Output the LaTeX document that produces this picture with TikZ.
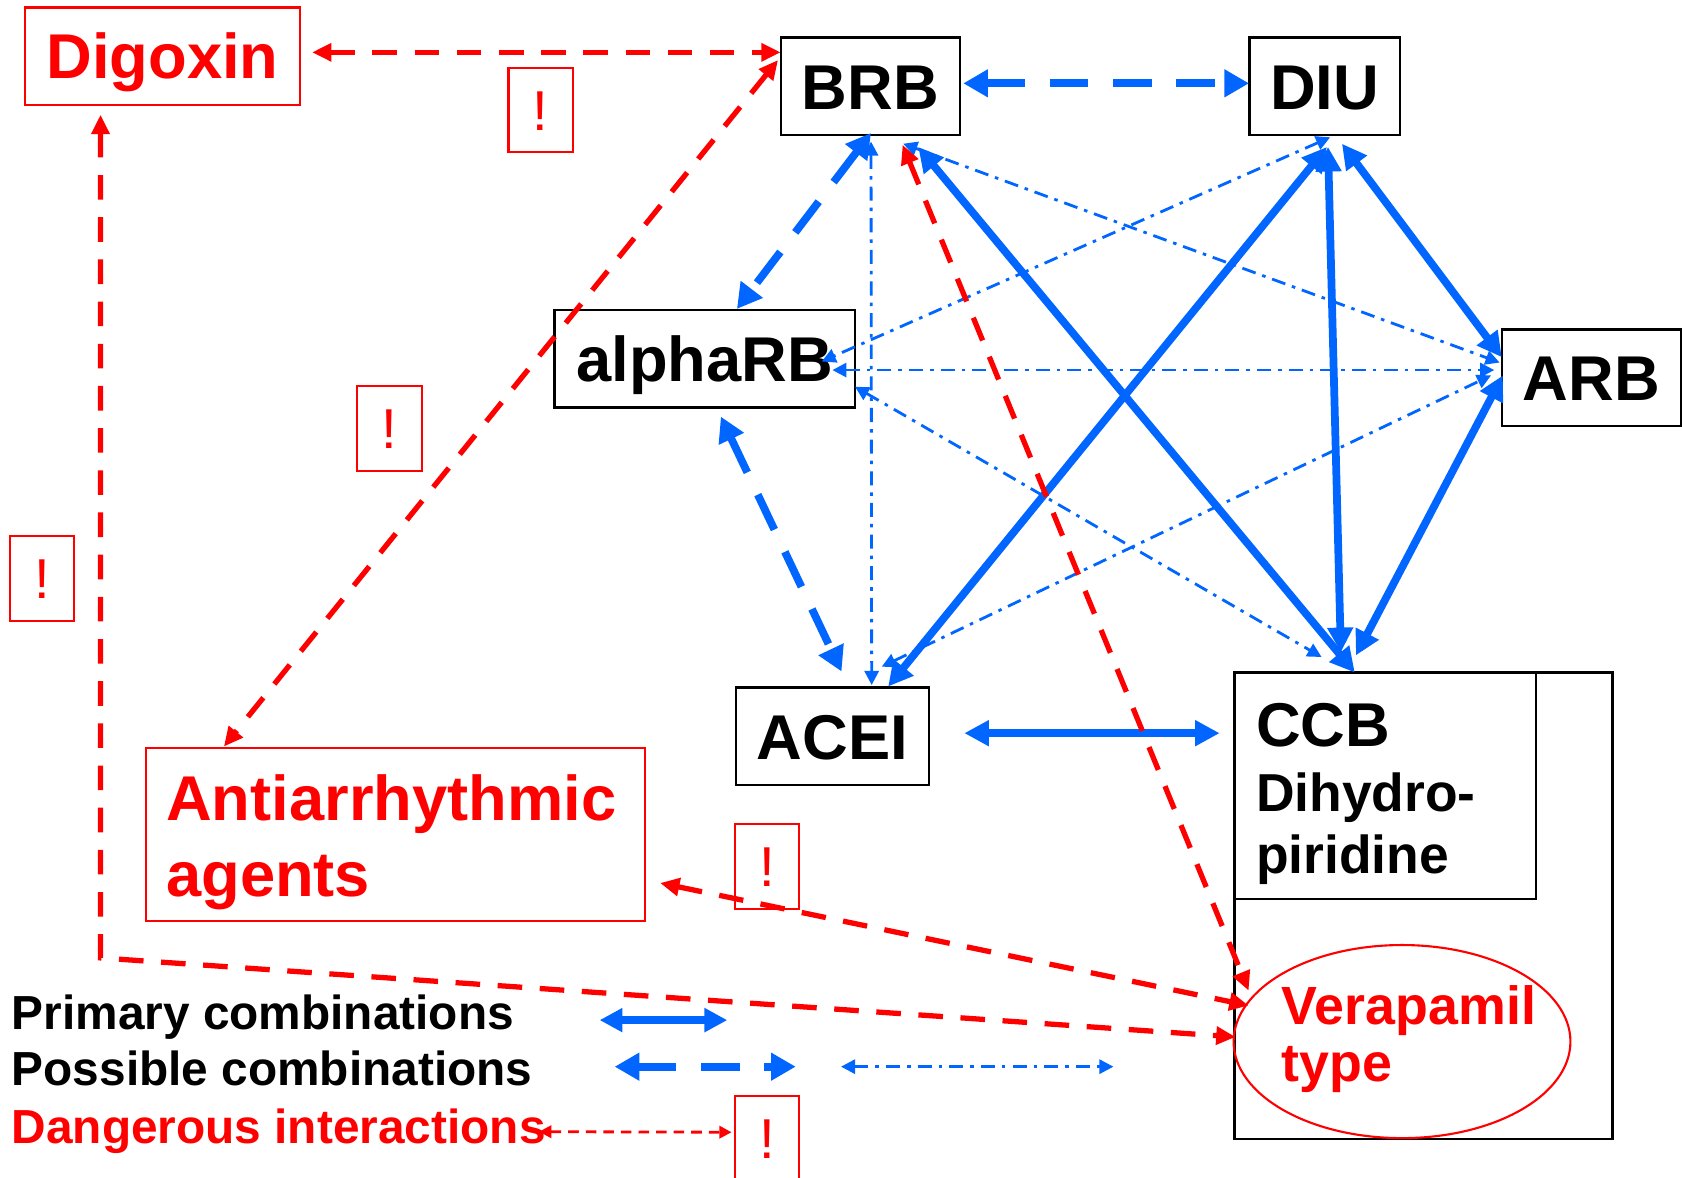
\documentclass[tikz,border=0pt]{standalone}
\usepackage{fontspec}
\setmainfont{Liberation Sans}
\usetikzlibrary{arrows.meta,calc,shapes.geometric}
\definecolor{cblue}{HTML}{0066FF}
\definecolor{cred}{HTML}{FF0000}
\begin{document}
\begin{tikzpicture}[x=0.010727cm,y=-0.010727cm,
  box/.style 2 args={rectangle, inner sep=0pt, outer sep=0pt,
    minimum width=#1*0.010727cm, minimum height=#2*0.010727cm, anchor=north west},
  blk/.style={draw=black, line width=0.7pt},
  rbox/.style={draw=cred, line width=0.6pt},
  big/.style={font=\fontsize{18}{21.6}\selectfont\bfseries, text height=12.9pt, text depth=0pt},
  excl/.style={rbox, box={60}{79}, text=cred, font=\fontsize{16}{19}\selectfont, text height=11.5pt, text depth=0pt},
  txt/.style={anchor=base west, inner sep=0pt, outer sep=0pt},
  prim/.style={draw=cblue, line width=2.2pt,
    arrows={Triangle[length=7pt,width=7pt]-Triangle[length=7pt,width=7pt]}},
  poss/.style={draw=cblue, line width=2.2pt, dash pattern=on 11pt off 7pt,
    arrows={Triangle[length=7pt,width=7.5pt]-Triangle[length=7pt,width=7.5pt]}},
  ddot/.style={draw=cblue, line width=0.8pt, dash pattern=on 4pt off 2pt on 1pt off 2pt,
    arrows={Triangle[length=4pt,width=4pt]-Triangle[length=4pt,width=4pt]}},
  dang/.style={draw=cred, line width=1.5pt, dash pattern=on 7pt off 5pt,
    arrows={Triangle[length=5.5pt,width=5pt]-Triangle[length=5.5pt,width=5pt]}},
  dangleg/.style={draw=cred, line width=0.8pt, dash pattern=on 3pt off 2pt,
    arrows={Triangle[length=3.5pt,width=3.5pt]-Triangle[length=3.5pt,width=3.5pt]}}
]
\useasboundingbox (0,0) rectangle (1568,1098);

% ---- main boxes ----
\node[box={257}{91}, rbox, big, text=cred] (dig) at (23,7) {Digoxin};
\node[box={167}{91}, blk, big] (brb) at (728,35) {BRB};
\node[box={140}{91}, blk, big] (diu) at (1165,35) {DIU};
\node[box={280}{91}, blk, big] (alpha) at (517,289) {alphaRB};
\node[box={167}{90}, blk, big] (arb) at (1400,307) {ARB};
\node[box={180}{91}, blk, big] (acei) at (686,641) {ACEI};
\node[box={352}{435}, blk] (ccbo) at (1151,627) {};
\node[box={281}{211}, blk] (ccbi) at (1151,627) {};
\node[ellipse, draw=cred, line width=0.6pt, inner sep=0pt,
  minimum width=314*0.010727cm, minimum height=180*0.010727cm] (verap) at (1307,971) {};
\node[box={465}{162}, rbox] (anti) at (136,697) {};

% ---- texts inside the large boxes ----
\node[txt, text=cred, font=\fontsize{18}{21.6}\selectfont\bfseries] (antiA) at (155,764.5) {Antiarrhythmic};
\node[txt, text=cred, font=\fontsize{18}{21.6}\selectfont\bfseries] (antiB) at (155,836) {agents};
\node[txt, font=\fontsize{17.6}{21}\selectfont\bfseries] (ccbA) at (1171,695.5) {CCB};
\node[txt, font=\fontsize{15.2}{18}\selectfont\bfseries] (ccbB) at (1171,756.7) {Dihydro-};
\node[txt, font=\fontsize{15.2}{18}\selectfont\bfseries] (ccbC) at (1171,814.2) {piridine};
\node[txt, text=cred, font=\fontsize{15.3}{18}\selectfont\bfseries] (verA) at (1195,955) {Verapamil};
\node[txt, text=cred, font=\fontsize{15.3}{18}\selectfont\bfseries] (verB) at (1195,1008) {type};

% ---- warning boxes ----
\node[excl] (ex1) at (474,63) {!};
\node[excl] (ex2) at (333,360) {!};
\node[excl] (ex3) at (9,500) {!};
\node[excl] (ex4) at (685,768) {!};
\node[excl] (ex5) at (685,1022) {!};

% ---- legend texts ----
\node[txt, font=\fontsize{13.6}{16}\selectfont\bfseries] (leg1) at (11,959.6) {Primary combinations};
\node[txt, font=\fontsize{13.6}{16}\selectfont\bfseries] (leg2) at (11,1012.4) {Possible combinations};
\node[txt, text=cred, font=\fontsize{13.6}{16}\selectfont\bfseries] (leg3) at (11,1065.8) {Dangerous interactions};

% ---- primary combinations (solid) ----
\draw[prim] ($(brb.north west)+(128,102)$) -- ($(ccbo.north west)+(112,0)$);
\draw[prim] ($(diu.north west)+(72,102)$) -- ($(acei.north west)+(142,-1)$);
\draw[prim] ($(diu.north west)+(73,102)$) -- ($(ccbo.north west)+(99,-19)$);
\draw[prim] ($(diu.north west)+(86,99)$) -- ($(arb.north west)+(0,26)$);
\draw[prim] ($(arb.north west)+(1,43)$) -- ($(ccbo.north west)+(113,-16)$);
\draw[prim] ($(acei.north west)+(213,42.5)$) -- ($(ccbo.north west)+(-14,56.5)$);

% ---- possible combinations (dashed) ----
\draw[poss] ($(brb.north west)+(170,42.7)$) -- ($(diu.north west)+(-0.6,42.7)$);
\draw[poss] ($(brb.north west)+(84,89)$) -- ($(alpha.north west)+(170,-1)$);
\draw[poss] ($(alpha.north west)+(155,99.4)$) -- ($(acei.north west)+(98.5,-15)$);

% ---- possible combinations (dash-dot) ----
\draw[ddot] ($(brb.north west)+(84,97)$) -- ($(acei.north west)+(126.6,-2.4)$);
\draw[ddot] ($(brb.north west)+(114,99)$) -- ($(arb.north west)+(-2,31)$);
\draw[ddot] ($(diu.north west)+(75,93)$) -- ($(alpha.north west)+(249,48)$);
\draw[ddot] ($(alpha.north west)+(259,56)$) -- ($(arb.north west)+(-7,38)$);
\draw[ddot] ($(alpha.north west)+(280,71.5)$) -- ($(ccbo.north west)+(81,-14.5)$);
\draw[ddot] ($(acei.north west)+(136,-19.5)$) -- ($(arb.north west)+(-10,43)$);

% ---- dangerous interactions ----
\coordinate (bend) at ($(dig.north west)+(70.7,886)$);
\draw[dang] ($(dig.north west)+(268,41.8)$) -- ($(brb.north west)+(-0.3,13.8)$);
\draw[dang] ($(brb.north west)+(-2.7,21)$) -- ($(anti.north west)+(72.7,-1)$);
\draw[dang] ($(brb.north west)+(113.4,100)$) -- ($(verap.center)+(-143,-47.5)$);
\draw[dang] ($(anti.north west)+(479.4,126.2)$) -- ($(verap.center)+(-143,-33.6)$);
\draw[dang] ($(dig.north west)+(70.7,100)$) -- (bend) -- ($(verap.center)+(-155.2,-4.3)$);

% ---- legend connectors ----
\coordinate (l1a) at (559,951);   \coordinate (l1b) at (678,951);
\coordinate (l2a) at (573,994.4); \coordinate (l2b) at (741.8,994.4);
\coordinate (l3a) at (784,994.4); \coordinate (l3b) at (1038,994.4);
\coordinate (l4a) at (502.5,1055);
\draw[prim, arrows={Triangle[length=6.5pt,width=6.5pt]-Triangle[length=6.5pt,width=6.5pt]}] (l1a) -- (l1b);
\draw[poss] (l2a) -- (l2b);
\draw[ddot] (l3a) -- (l3b);
\draw[dangleg] (l4a) -- ($(ex5.west)+(-3,-6)$);
\end{tikzpicture}
\end{document}
